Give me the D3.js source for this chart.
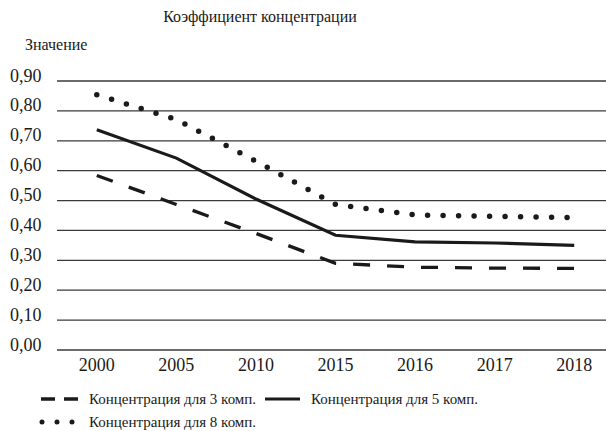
<!DOCTYPE html>
<html>
<head>
<meta charset="utf-8">
<script src="https://cdn.jsdelivr.net/npm/d3@7"></script>
</head>
<body style="margin:0">
<svg id="chart" width="606" height="431" style="font-family: Liberation Serif"></svg>
<script>
// data
var years = ["2000", "2005", "2010", "2015", "2016", "2017", "2018"];
var conc3 = [0.584, 0.487, 0.39, 0.29, 0.277, 0.274, 0.273];
var conc5 = [0.737, 0.642, 0.505, 0.384, 0.362, 0.358, 0.35];
var conc8 = [0.854, 0.771, 0.632, 0.487, 0.452, 0.447, 0.443];
var yTicks = [0, 0.1, 0.2, 0.3, 0.4, 0.5, 0.6, 0.7, 0.8, 0.9];
var seriesNames = ["Концентрация для 3 комп.", "Концентрация для 5 комп.", "Концентрация для 8 комп."];

var FONT = "Liberation Serif";
var INK = "#1a1a1a";

var svg = d3.select("#chart");

var x = d3.scaleBand()
    .domain(years)
    .range([57, 614]);
var y = d3.scaleLinear()
    .domain([0, 0.9])
    .range([350, 81]);

svg.append("text")
    .attr("x", 260).attr("y", 22)
    .attr("text-anchor", "middle")
    .attr("font-size", 16)
    .attr("fill", INK)
    .style("font-family", FONT)
    .text("Коэффициент концентрации");

svg.append("text")
    .attr("x", 25).attr("y", 50)
    .attr("font-size", 16)
    .attr("fill", INK)
    .style("font-family", FONT)
    .text("Значение");

// horizontal grid
svg.append("g")
    .selectAll("line")
    .data(yTicks)
    .enter().append("line")
        .attr("x1", 57).attr("x2", 606)
        .attr("y1", function(d) { return y(d); })
        .attr("y2", function(d) { return y(d); })
        .attr("stroke", "#3a3a3a")
        .attr("stroke-width", 1.3);

// y labels, left aligned
svg.append("g")
    .selectAll("text")
    .data(yTicks)
    .enter().append("text")
        .attr("x", 10)
        .attr("y", function(d) { return y(d) + 0.5; })
        .attr("font-size", 18)
        .attr("fill", INK)
        .style("font-family", FONT)
        .text(function(d) { return d3.format(".2f")(d).replace(".", ","); });

var xAxis = svg.append("g")
    .attr("transform", "translate(0,350)")
    .call(d3.axisBottom(x).tickSize(0).tickPadding(8));
xAxis.select(".domain").remove();
xAxis.selectAll("text")
    .attr("font-size", 18)
    .attr("fill", INK)
    .style("font-family", FONT);

var line = d3.line()
    .x(function(d, i) { return x(years[i]) + x.bandwidth() / 2; })
    .y(function(d) { return y(d); });

svg.append("path")
    .datum(conc3)
    .attr("d", line)
    .attr("fill", "none")
    .attr("stroke", INK)
    .attr("stroke-width", 3.3)
    .attr("stroke-dasharray", "17,17");

svg.append("path")
    .datum(conc5)
    .attr("d", line)
    .attr("fill", "none")
    .attr("stroke", INK)
    .attr("stroke-width", 3.2);

svg.append("path")
    .datum(conc8)
    .attr("d", line)
    .attr("fill", "none")
    .attr("stroke", INK)
    .attr("stroke-width", 5.5)
    .attr("stroke-linecap", "round")
    .attr("stroke-dasharray", "0,15.5");

// legend
var lg = svg.append("g");
lg.append("line").attr("x1", 41).attr("x2", 78).attr("y1", 399).attr("y2", 399)
    .attr("stroke", INK).attr("stroke-width", 3.3).attr("stroke-dasharray", "14,9");
lg.append("line").attr("x1", 265).attr("x2", 300).attr("y1", 399).attr("y2", 399)
    .attr("stroke", INK).attr("stroke-width", 3.2);
lg.append("line").attr("x1", 42).attr("x2", 73).attr("y1", 422).attr("y2", 422)
    .attr("stroke", INK).attr("stroke-width", 5).attr("stroke-linecap", "round")
    .attr("stroke-dasharray", "0,15");
lg.selectAll("text")
    .data([[89, 404], [311, 404], [89, 427]])
    .enter().append("text")
        .attr("x", function(d) { return d[0]; })
        .attr("y", function(d) { return d[1]; })
        .attr("font-size", 15)
        .attr("fill", INK)
        .style("font-family", FONT)
        .text(function(d, i) { return seriesNames[i]; });
</script>
</body>
</html>
